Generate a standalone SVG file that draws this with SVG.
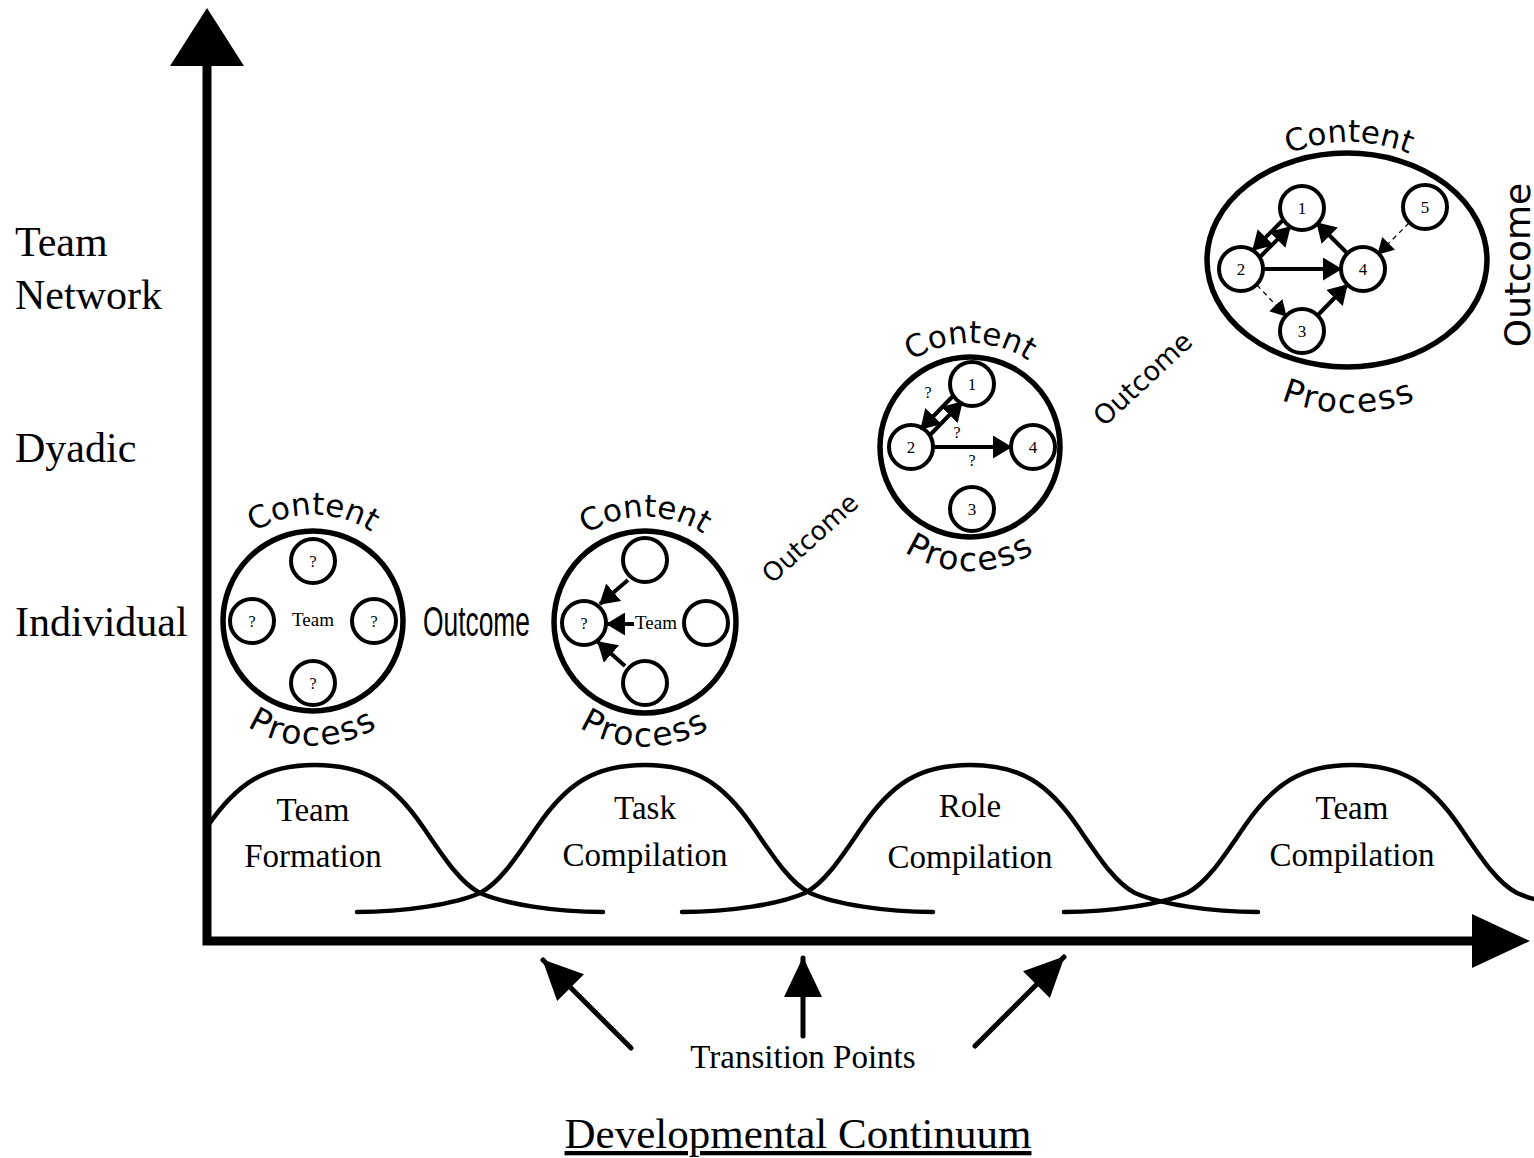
<svg xmlns="http://www.w3.org/2000/svg" width="1534" height="1158" viewBox="0 0 1534 1158">
<style>
.ax{stroke:#000;stroke-width:9;fill:none;stroke-linejoin:miter}
.bell{stroke:#000;stroke-width:4.5;fill:none;stroke-linecap:round}
.big{fill:#fff;stroke:#000;stroke-width:5.5}
.node{fill:#fff;stroke:#000;stroke-width:4}
.edge{stroke:#000;stroke-width:4;fill:none}
.dash{stroke:#000;stroke-width:1.3;stroke-dasharray:5 4;fill:none}
.tr{stroke:#000;stroke-width:5;fill:none;stroke-linecap:round}
.serif{font-family:"Liberation Serif","Times New Roman",serif;fill:#000}
.lab{font-size:42px}
.phase{font-size:33px;text-anchor:middle}
.q{font-size:16px;text-anchor:middle}
.num{font-size:17px;text-anchor:middle}
.deco{font-family:"DejaVu Sans","Liberation Sans",sans-serif;fill:#000}
</style>
<defs>
<marker id="ah" markerUnits="userSpaceOnUse" viewBox="0 0 19 23" markerWidth="19" markerHeight="23" refX="18" refY="11.5" orient="auto"><path d="M0,0 L19,11.5 L0,23 z" fill="#000"/></marker>
<marker id="ahs" markerUnits="userSpaceOnUse" viewBox="0 0 16 18" markerWidth="16" markerHeight="18" refX="15" refY="9" orient="auto"><path d="M0,0 L16,9 L0,18 z" fill="#000"/></marker>
<marker id="ahb" markerUnits="userSpaceOnUse" viewBox="0 0 40 38" markerWidth="40" markerHeight="38" refX="39" refY="19" orient="auto"><path d="M0,0 L40,19 L0,38 z" fill="#000"/></marker>
<path id="c1t" d="M243,541 A106,106 0 0 1 383,541"/>
<path id="c1b" d="M223,706 A122,122 0 0 0 403,706"/>
<path id="c2t" d="M575,543 A106,106 0 0 1 715,543"/>
<path id="c2b" d="M555,707 A122,122 0 0 0 735,707"/>
<path id="c3t" d="M895,375 A104,104 0 0 1 1045,375"/>
<path id="c3b" d="M880,531 A121,121 0 0 0 1060,531"/>
<path id="c4t" d="M1259,170 A158,158 0 0 1 1439,170"/>
<path id="c4b" d="M1249,383 A183,183 0 0 0 1449,383"/>
</defs>
<rect width="1534" height="1158" fill="#fff"/>

<g id="axes">
<path class="ax" d="M207,64 L207,941 L1474,941"/>
<polygon points="207,8 170,66 244,66" fill="#000"/>
<polygon points="1530,941 1472,914 1472,968" fill="#000"/>
</g>

<g id="axis-labels" class="serif lab">
<text x="15" y="256">Team</text>
<text x="15" y="309">Network</text>
<text x="15" y="462">Dyadic</text>
<text x="15" y="636">Individual</text>
</g>

<g id="phase-curves">
<path class="bell" d="M207,827 C237,783 265,765 315,765 C365,765 393,783 423,827 C443,856 460,883 480,893 C505,904 555,912 603,912"/>
<path class="bell" d="M357,912 C405,912 455,904 480,893 C500,883 517,856 537,827 C567,783 595,765 645,765 C695,765 723,783 753,827 C773,856 790,883 810,893 C835,904 885,912 933,912"/>
<path class="bell" d="M682,912 C730,912 780,904 805,893 C825,883 842,856 862,827 C892,783 920,765 970,765 C1020,765 1048,783 1078,827 C1098,856 1115,883 1135,893 C1160,904 1210,912 1258,912"/>
<path class="bell" d="M1064,912 C1112,912 1162,904 1187,893 C1207,883 1224,856 1244,827 C1274,783 1302,765 1352,765 C1402,765 1430,783 1460,827 C1480,856 1497,883 1517,893 C1542,904 1592,912 1640,912"/>
</g>

<g id="phase-labels" class="serif phase">
<text x="313" y="821">Team</text>
<text x="313" y="867">Formation</text>
<text x="645" y="819">Task</text>
<text x="645" y="866">Compilation</text>
<text x="970" y="817">Role</text>
<text x="970" y="868">Compilation</text>
<text x="1352" y="819">Team</text>
<text x="1352" y="866">Compilation</text>
</g>

<!-- Stage 1 -->
<g id="stage1">
<circle class="big" cx="313" cy="621" r="90"/>
<text class="deco" font-size="31" text-anchor="middle"><textPath href="#c1t" startOffset="50%">Content</textPath></text>
<text class="deco" font-size="33" text-anchor="middle" letter-spacing="2"><textPath href="#c1b" startOffset="50%">Process</textPath></text>
<text class="serif" font-size="19" text-anchor="middle" x="313" y="626">Team</text>
</g>
<g id="s1n-top"><circle class="node" cx="313" cy="561" r="22"/><text class="serif q" x="313" y="567">?</text></g>
<g id="s1n-left"><circle class="node" cx="252" cy="621" r="22"/><text class="serif q" x="252" y="627">?</text></g>
<g id="s1n-right"><circle class="node" cx="374" cy="621" r="22"/><text class="serif q" x="374" y="627">?</text></g>
<g id="s1n-bottom"><circle class="node" cx="313" cy="683" r="22"/><text class="serif q" x="313" y="689">?</text></g>
<g id="outcome1"><text font-family="'Liberation Sans Narrow','Liberation Sans',sans-serif" font-size="43" x="423" y="636" textLength="107" lengthAdjust="spacingAndGlyphs">Outcome</text></g>

<!-- Stage 2 -->
<g id="stage2">
<circle class="big" cx="645" cy="622" r="91"/>
<text class="deco" font-size="31" text-anchor="middle"><textPath href="#c2t" startOffset="50%">Content</textPath></text>
<text class="deco" font-size="33" text-anchor="middle" letter-spacing="2"><textPath href="#c2b" startOffset="50%">Process</textPath></text>
<text class="serif" font-size="19" x="635" y="629">Team</text>
</g>
<g id="s2n-top"><circle class="node" cx="645" cy="560" r="22"/></g>
<g id="s2n-left"><circle class="node" cx="584" cy="623" r="22"/><text class="serif q" x="584" y="629">?</text></g>
<g id="s2n-right"><circle class="node" cx="706" cy="623" r="22"/></g>
<g id="s2n-bottom"><circle class="node" cx="645" cy="683" r="22"/></g>
<g id="outcome2"><text class="deco" font-size="26" text-anchor="middle" transform="translate(810,538) rotate(-42)" x="0" y="9">Outcome</text></g>

<!-- Stage 3 -->
<g id="stage3">
<circle class="big" cx="970" cy="447" r="90"/>
<text class="deco" font-size="31" text-anchor="middle"><textPath href="#c3t" startOffset="50%">Content</textPath></text>
<text class="deco" font-size="33" text-anchor="middle" letter-spacing="2"><textPath href="#c3b" startOffset="50%">Process</textPath></text>
</g>
<g id="s3n1"><circle class="node" cx="972" cy="384" r="22"/><text class="serif num" x="972" y="390">1</text></g>
<g id="s3n2"><circle class="node" cx="911" cy="447" r="22"/><text class="serif num" x="911" y="453">2</text></g>
<g id="s3n4"><circle class="node" cx="1033" cy="447" r="22"/><text class="serif num" x="1033" y="453">4</text></g>
<g id="s3n3"><circle class="node" cx="972" cy="509" r="22"/><text class="serif num" x="972" y="515">3</text></g>
<g id="s3-labels" class="serif q">
<text x="928" y="398">?</text>
<text x="957" y="438">?</text>
<text x="972" y="466">?</text>
</g>
<g id="outcome3"><text class="deco" font-size="27" text-anchor="middle" transform="translate(1143,379) rotate(-43)" x="0" y="9">Outcome</text></g>

<!-- Stage 4 -->
<g id="stage4">
<ellipse class="big" cx="1347" cy="260" rx="140" ry="107"/>
<text class="deco" font-size="31" text-anchor="middle"><textPath href="#c4t" startOffset="50%">Content</textPath></text>
<text class="deco" font-size="33" text-anchor="middle" letter-spacing="2"><textPath href="#c4b" startOffset="50%">Process</textPath></text>
</g>
<g id="s4n1"><circle class="node" cx="1302" cy="208" r="22"/><text class="serif num" x="1302" y="214">1</text></g>
<g id="s4n2"><circle class="node" cx="1241" cy="269" r="22"/><text class="serif num" x="1241" y="275">2</text></g>
<g id="s4n3"><circle class="node" cx="1302" cy="331" r="22"/><text class="serif num" x="1302" y="337">3</text></g>
<g id="s4n4"><circle class="node" cx="1363" cy="269" r="22"/><text class="serif num" x="1363" y="275">4</text></g>
<g id="s4n5"><circle class="node" cx="1425" cy="207" r="22"/><text class="serif num" x="1425" y="213">5</text></g>
<g id="outcome4"><text class="deco" font-size="36" text-anchor="middle" transform="translate(1530,265) rotate(-90)" x="0" y="0">Outcome</text></g>

<g id="connectors">
<!-- stage 2 -->
<line class="edge" x1="628" y1="580" x2="600" y2="604" marker-end="url(#ah)"/>
<line class="edge" x1="634" y1="624" x2="607" y2="624" marker-end="url(#ah)"/>
<line class="edge" x1="625" y1="666" x2="598" y2="642" marker-end="url(#ah)"/>
<!-- stage 3 -->
<line class="edge" x1="953" y1="396" x2="921" y2="429" marker-end="url(#ah)"/>
<line class="edge" x1="930" y1="435" x2="962" y2="402" marker-end="url(#ah)"/>
<line class="edge" x1="933" y1="447" x2="1011" y2="447" marker-end="url(#ah)"/>
<!-- stage 4 -->
<line class="edge" x1="1283" y1="220" x2="1253" y2="250" marker-end="url(#ah)"/>
<line class="edge" x1="1260" y1="257" x2="1290" y2="227" marker-end="url(#ah)"/>
<line class="edge" x1="1263" y1="269" x2="1341" y2="269" marker-end="url(#ah)"/>
<line class="edge" x1="1347" y1="253" x2="1317" y2="223" marker-end="url(#ah)"/>
<line class="edge" x1="1318" y1="315" x2="1347" y2="285" marker-end="url(#ah)"/>
<line class="dash" x1="1409" y1="223" x2="1378" y2="254" marker-end="url(#ahs)"/>
<line class="dash" x1="1257" y1="285" x2="1286" y2="316" marker-end="url(#ahs)"/>
<!-- transition points -->
<line class="tr" x1="631" y1="1048" x2="543" y2="960" marker-end="url(#ahb)"/>
<line class="tr" x1="803" y1="1036" x2="803" y2="958" marker-end="url(#ahb)"/>
<line class="tr" x1="975" y1="1046" x2="1064" y2="957" marker-end="url(#ahb)"/>
</g>

<g id="bottom-labels" class="serif">
<text x="803" y="1068" font-size="33" text-anchor="middle">Transition Points</text>
<text x="798" y="1148" font-size="43" text-anchor="middle" text-decoration="underline">Developmental Continuum</text>
</g>
</svg>
